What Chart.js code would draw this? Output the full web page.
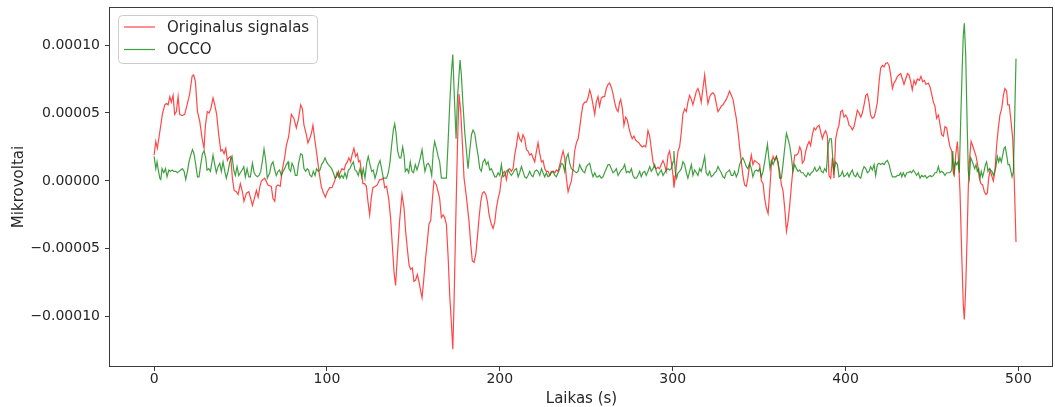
<!DOCTYPE html>
<html>
<head>
<meta charset="utf-8">
<script src="https://cdn.jsdelivr.net/npm/chart.js@4/dist/chart.umd.min.js"></script>
<style>
  body { margin: 0; background: #fff; }
  #wrap { width: 1055px; height: 407px; }
</style>
</head>
<body>
<div id="wrap"><canvas id="signal" width="1055" height="407"></canvas></div>
<script>
// values: [time (s), value]
const originalSignal = [
  [0, 1.9e-5], [1, 2.9e-5], [1.9, 2.4e-5], [3.3, 3.6e-5], [4.8, 4.9e-5], [6.2, 5.6e-5], [7.1, 5.7e-5], [8.1, 5.6e-5],
  [9.1, 6.2e-5], [10, 5.8e-5], [11, 6.3e-5], [11.9, 4.9e-5], [12.9, 5.1e-5], [13.9, 6.2e-5], [14.8, 4.9e-5], [16.2, 4.8e-5],
  [17.7, 4.9e-5], [19.3, 5.7e-5], [20.6, 6.4e-5], [22, 7.7e-5], [22.9, 7.8e-5], [23.9, 7.3e-5], [25.1, 5.1e-5], [26.4, 4.4e-5],
  [27.8, 3.1e-5], [28.9, 2.4e-5], [29.7, 4.1e-5], [30.8, 5.1e-5], [31.8, 5.0e-5], [32.8, 5.3e-5], [34.1, 6.1e-5], [35.1, 5.6e-5],
  [36.2, 4.9e-5], [37.4, 3.4e-5], [38.6, 2.2e-5], [39.5, 2.3e-5], [40.5, 2.0e-5], [41.5, 2.4e-5], [42.4, 1.5e-5], [43.2, 1.7e-5],
  [44.3, 1.8e-5], [45.3, 0.2e-5], [46.3, -0.7e-5], [47.6, -0.8e-5], [48.6, -1.0e-5], [49.9, -0.2e-5], [51.1, -0.8e-5], [52, -1.5e-5],
  [53.4, -0.9e-5], [54.8, -0.8e-5], [55.9, -1.3e-5], [56.9, -1.8e-5], [58.2, -1.2e-5], [59.2, -0.7e-5], [60.2, -1.2e-5], [61.1, -0.5e-5],
  [62.1, 0], [64, 0.2e-5], [65.9, -0.3e-5], [67.8, -0.4e-5], [68.8, -1.3e-5], [69.8, -1.5e-5], [70.7, -0.4e-5], [71.7, -0.3e-5],
  [73, -0.4e-5], [74, 0.7e-5], [75.5, 1.7e-5], [76.5, 2.6e-5], [77.9, 3.3e-5], [79.4, 4.9e-5], [80.9, 4.6e-5], [82.3, 3.9e-5],
  [83.6, 4.6e-5], [84.8, 5.6e-5], [85.8, 5.3e-5], [86.7, 4.1e-5], [88.1, 3.4e-5], [89, 2.8e-5], [90, 3.1e-5], [91, 3.5e-5],
  [91.9, 4.1e-5], [92.9, 3.1e-5], [94.2, 1.9e-5], [95.4, 0.7e-5], [96.7, -0.4e-5], [97.7, -0.8e-5], [99.1, -1.2e-5], [100.2, -0.8e-5],
  [101.6, -0.5e-5], [102.9, -0.5e-5], [104.5, 0], [105.8, 0.6e-5], [106.8, 0.3e-5], [107.9, 0.7e-5], [108.7, 0.9e-5], [109.9, 0.8e-5],
  [110.8, 1.2e-5], [111.8, 1.4e-5], [112.7, 1.7e-5], [113.7, 1.4e-5], [114.5, 1.9e-5], [115.6, 2.4e-5], [116.6, 1.8e-5], [117.6, 2.0e-5],
  [118.3, 1.4e-5], [119.1, 1.5e-5], [119.9, 0.7e-5], [120.8, -0.2e-5], [121.8, -0.2e-5], [122.8, -0.4e-5], [123.7, -1.5e-5], [124.7, -2.5e-5],
  [125.7, -1.2e-5], [126.6, -0.5e-5], [128, -0.4e-5], [129.1, -0.3e-5], [130.5, 0.1e-5], [131.4, 0.1e-5], [132.6, 0.2e-5], [133.4, -0.5e-5],
  [134.5, -0.4e-5], [135.7, -1.3e-5], [136.8, -2.7e-5], [137.8, -4.7e-5], [138.8, -6.7e-5], [139.7, -7.7e-5], [140.7, -5.6e-5], [142, -3.0e-5],
  [143.4, -1.0e-5], [144.6, -2.0e-5], [145.5, -3.7e-5], [146.5, -5.0e-5], [147.5, -6.2e-5], [148.4, -6.5e-5], [149.4, -6.4e-5], [150.3, -7.4e-5],
  [151.3, -7.3e-5], [152.3, -6.9e-5], [153.2, -7.4e-5], [154.2, -8.1e-5], [155, -8.6e-5], [155.9, -7.4e-5], [156.9, -5.9e-5], [158.1, -4.4e-5],
  [159, -3.2e-5], [160, -2.9e-5], [160.9, -1.5e-5], [161.9, 0], [163.3, -0.3e-5], [164.3, -0.8e-5], [165.2, -1.3e-5], [166.2, -2.7e-5],
  [167.2, -2.5e-5], [168.1, -2.7e-5], [169.1, -3.2e-5], [170.1, -5.6e-5], [171, -8.4e-5], [172, -10.5e-5], [172.8, -12.4e-5], [173.5, -9.1e-5],
  [174.5, -3.0e-5], [175.5, 2.6e-5], [176.4, 6.4e-5], [177.4, 5.1e-5], [178.4, 2.6e-5], [179.3, 0.2e-5], [180.3, -0.8e-5], [181.2, -1.8e-5],
  [182.2, -3.0e-5], [183.2, -4.7e-5], [184.1, -5.9e-5], [185.1, -6.0e-5], [186.1, -5.4e-5], [187, -4.2e-5], [188, -2.7e-5], [189, -1.5e-5],
  [189.9, -0.9e-5], [190.9, -0.8e-5], [191.9, -1.0e-5], [192.8, -1.5e-5], [193.8, -2.5e-5], [195.1, -3.2e-5], [196.1, -3.5e-5], [197.1, -3.0e-5],
  [198, -2.0e-5], [199, -1.3e-5], [200, -0.8e-5], [200.9, 0.2e-5], [201.9, 0.6e-5], [202.8, 0.7e-5], [203.8, 0.1e-5], [204.8, 0.8e-5],
  [205.7, 0.9e-5], [206.7, 0.7e-5], [207.7, 0.9e-5], [208.6, 1.9e-5], [209.6, 2.6e-5], [210.6, 3.5e-5], [211.5, 3.1e-5], [212.5, 2.9e-5],
  [213.4, 3.4e-5], [214.4, 3.1e-5], [215.4, 2.3e-5], [216.3, 2.2e-5], [217.3, 1.9e-5], [218.3, 2.0e-5], [219.2, 1.7e-5], [220.2, 1.4e-5],
  [221.2, 2.2e-5], [222.1, 2.8e-5], [223.1, 2.0e-5], [224.1, 1.4e-5], [225, 1.5e-5], [226, 0.9e-5], [226.9, 0.7e-5], [227.9, 0.7e-5],
  [228.9, 0.4e-5], [229.8, 0.7e-5], [230.8, 0.7e-5], [231.8, 0.6e-5], [232.7, 0.8e-5], [233.7, 0.7e-5], [234.7, 1.2e-5], [235.6, 1.7e-5],
  [236.6, 2.2e-5], [237.5, 1.7e-5], [238.5, 0.2e-5], [239.5, -0.8e-5], [240.4, -0.4e-5], [241.4, 0], [242.4, 0.9e-5], [243.3, 2.2e-5],
  [244.3, 2.8e-5], [245.3, 3.1e-5], [246.2, 3.9e-5], [247.2, 4.9e-5], [248.1, 5.6e-5], [249.1, 5.8e-5], [250.1, 5.8e-5], [251, 6.1e-5],
  [252, 6.7e-5], [252.9, 6.3e-5], [253.9, 5.6e-5], [254.9, 4.9e-5], [255.8, 5.8e-5], [256.8, 6.2e-5], [257.7, 5.5e-5], [258.7, 6.1e-5],
  [259.7, 6.2e-5], [260.6, 6.2e-5], [261.6, 6.8e-5], [262.6, 7.1e-5], [263.5, 7.2e-5], [264.5, 6.9e-5], [265.5, 6.4e-5], [266.4, 5.8e-5],
  [267.4, 5.3e-5], [268.4, 5.1e-5], [269.3, 5.8e-5], [269.9, 6.0e-5], [270.9, 5.3e-5], [271.8, 4.1e-5], [272.8, 4.7e-5], [273.7, 4.5e-5],
  [274.7, 3.9e-5], [275.7, 3.4e-5], [276.6, 3.1e-5], [277.6, 3.3e-5], [278.6, 3.0e-5], [279.5, 2.9e-5], [280.5, 2.8e-5], [281.5, 2.6e-5],
  [282.4, 2.5e-5], [283.4, 2.6e-5], [284.4, 2.5e-5], [284.9, 2.9e-5], [285.7, 3.7e-5], [286.7, 3.3e-5], [287.6, 2.4e-5], [288.6, 1.4e-5],
  [289.6, 1.0e-5], [290.5, 0.9e-5], [291.5, 1.0e-5], [292.4, 0.9e-5], [293.4, 1.2e-5], [294.4, 1.5e-5], [295.3, 1.2e-5], [296.3, 0.7e-5],
  [297.3, 1.9e-5], [298.2, 2.2e-5], [299.2, 1.4e-5], [300.2, 0.4e-5], [300.7, -0.5e-5], [301.5, 0.2e-5], [302.3, 1.4e-5], [303.1, 2.2e-5],
  [304, 2.5e-5], [305, 3.6e-5], [305.9, 4.9e-5], [306.9, 5.3e-5], [307.9, 5.1e-5], [308.8, 5.8e-5], [309.8, 6.3e-5], [310.8, 6.0e-5],
  [311.7, 5.6e-5], [312.7, 6.1e-5], [313.7, 6.6e-5], [314.6, 6.8e-5], [315.6, 6.4e-5], [316.5, 5.8e-5], [317.5, 6.8e-5], [318.5, 7.8e-5],
  [319.4, 6.7e-5], [320.4, 5.7e-5], [321.4, 6.2e-5], [322.3, 6.4e-5], [323.3, 6.5e-5], [324.3, 6.3e-5], [325.2, 5.7e-5], [326.2, 5.1e-5],
  [327.2, 5.3e-5], [328.1, 5.5e-5], [329.1, 5.6e-5], [330, 5.8e-5], [331, 6.0e-5], [332, 6.3e-5], [332.9, 6.6e-5], [333.9, 6.3e-5],
  [334.9, 6.0e-5], [335.8, 5.3e-5], [336.8, 4.6e-5], [337.8, 3.6e-5], [338.7, 2.5e-5], [339.7, 1.4e-5], [340.6, 0.4e-5], [341.6, -0.3e-5],
  [342.6, -0.4e-5], [343.5, 0.2e-5], [344.5, 1.2e-5], [345.5, 1.9e-5], [346.4, 1.2e-5], [347.4, 1.5e-5], [348.4, 1.4e-5], [350.3, 1.2e-5],
  [351.3, 0], [352.3, -0.2e-5], [353.2, -1.3e-5], [354.2, -2.0e-5], [355.2, -2.4e-5], [356.1, -0.8e-5], [357.1, 1.2e-5], [358.1, 1.8e-5],
  [359, 1.5e-5], [360, 1.8e-5], [361, 1.2e-5], [361.9, 0.7e-5], [362.9, -0.3e-5], [363.8, -0.7e-5], [364.8, -2.0e-5], [365.8, -3.7e-5],
  [366.7, -3.0e-5], [367.7, -1.8e-5], [368.7, -0.3e-5], [369.6, 0.9e-5], [370.6, 1.9e-5], [371.6, 1.9e-5], [372.5, 2.0e-5], [373.5, 2.5e-5],
  [374.4, 2.2e-5], [375, 1.3e-5], [376, 1.5e-5], [377, 2.2e-5], [377.9, 2.6e-5], [378.9, 2.9e-5], [379.8, 2.6e-5], [380.8, 3.4e-5],
  [381.8, 3.9e-5], [382.7, 3.75e-5], [383.7, 4.0e-5], [384.7, 4.1e-5], [385.6, 3.6e-5], [386.6, 3.1e-5], [387.6, 3.5e-5], [388.5, 3.7e-5],
  [389.5, 3.3e-5], [390.4, 0.4e-5], [391.4, 0.2e-5], [392.4, 1.7e-5], [393.3, 0.2e-5], [394.3, 3.1e-5], [395.3, 3.75e-5], [396.2, 4.1e-5],
  [397.2, 5.1e-5], [398.2, 5.2e-5], [399.1, 4.7e-5], [400.1, 4.85e-5], [401.1, 4.6e-5], [402, 4.1e-5], [403, 4.0e-5], [403.9, 3.75e-5],
  [404.9, 4.0e-5], [405.9, 4.6e-5], [406.8, 5.2e-5], [407.8, 5.0e-5], [408.8, 4.7e-5], [409.7, 5.0e-5], [410.7, 5.6e-5], [411.7, 6.3e-5],
  [412.6, 6.4e-5], [413.6, 5.8e-5], [414.5, 4.85e-5], [415.5, 4.6e-5], [416.5, 4.7e-5], [417.4, 5.1e-5], [418.4, 5.8e-5], [419.4, 7.3e-5],
  [420.3, 8.3e-5], [421.3, 8.5e-5], [422.3, 8.4e-5], [423.2, 8.65e-5], [424.2, 8.7e-5], [425.2, 8.5e-5], [426.1, 7.8e-5], [427.1, 6.8e-5],
  [428, 7.2e-5], [429, 7.4e-5], [430, 7.7e-5], [430.9, 7.8e-5], [431.9, 7.9e-5], [432.9, 7.5e-5], [433.8, 7.1e-5], [434.8, 7.5e-5],
  [435.8, 7.9e-5], [436.7, 7.8e-5], [437.7, 7.3e-5], [438.6, 6.7e-5], [439.6, 7.4e-5], [440.6, 7.1e-5], [441.5, 7.5e-5], [442.7, 7.4e-5],
  [443.6, 7.7e-5], [444.6, 7.3e-5], [445.6, 7.4e-5], [446.5, 7.1e-5], [447.9, 7.2e-5], [448.9, 6.9e-5], [449.8, 6.4e-5], [450.8, 5.8e-5],
  [451.7, 5.5e-5], [452.7, 4.6e-5], [453.7, 4.85e-5], [454.6, 4.2e-5], [455.6, 3.4e-5], [456.6, 3.3e-5], [457.5, 4.0e-5], [458.5, 3.9e-5],
  [459.5, 3.1e-5], [460.4, 2.5e-5], [461.4, 2.2e-5], [462.3, 0.6e-5], [462.9, 0.4e-5], [463.7, 1.9e-5], [464.7, 2.9e-5], [465.4, 1.4e-5],
  [466.2, -0.8e-5], [467.2, -5.4e-5], [468.1, -9.1e-5], [468.7, -10.2e-5], [469.5, -7.9e-5], [470.3, -4.2e-5], [471, -0.5e-5], [471.6, 1.4e-5],
  [472.6, 2.9e-5], [473.5, 2.6e-5], [474.5, 2.2e-5], [475.5, 1.8e-5], [476.4, 1.2e-5], [477.4, 0.2e-5], [478.3, -0.2e-5], [479.3, -0.3e-5],
  [480.3, -0.8e-5], [481.2, -1.0e-5], [482, -0.9e-5], [482.8, 0.2e-5], [483.6, 0.8e-5], [484.5, 0.4e-5], [485.5, 0], [486.4, 0.7e-5],
  [487.4, 2.6e-5], [488.4, 3.9e-5], [489.3, 4.85e-5], [490.3, 5.3e-5], [491.3, 6.3e-5], [492.2, 6.8e-5], [493.2, 6.6e-5], [493.8, 5.6e-5],
  [494.7, 5.6e-5], [495.7, 4.4e-5], [496.7, 3.1e-5], [497.6, 0], [498.6, -4.5e-5]
];

const occoSignal = [
  [0, 1.8e-5], [1, 0.9e-5], [1.7, 1.4e-5], [2.3, 0.9e-5], [3.3, 0.2e-5], [3.9, 0.1e-5], [4.6, 0.9e-5], [5.6, 0.6e-5],
  [6.6, 0.9e-5], [7.5, 0.3e-5], [8.5, 0.8e-5], [9.4, 0.7e-5], [10.4, 0.8e-5], [11.4, 0.7e-5], [12.5, 0.7e-5], [13.5, 0.6e-5],
  [14.5, 0.7e-5], [15.4, 0.8e-5], [16.4, 0.9e-5], [17.4, 0.7e-5], [18.3, 0.1e-5], [19.3, 0.7e-5], [20.2, 1.4e-5], [21.2, 1.9e-5],
  [22.2, 2.3e-5], [23.1, 2.0e-5], [24.1, 1.2e-5], [25.1, 0.3e-5], [26, 0.3e-5], [27, 1.2e-5], [28, 2.0e-5], [28.9, 2.2e-5],
  [29.9, 1.7e-5], [30.6, 0.8e-5], [31.6, 0.9e-5], [32.6, 0.7e-5], [33.5, 1.4e-5], [34.1, 1.9e-5], [35.1, 1.2e-5], [36, 0.6e-5],
  [37, 1.05e-5], [38, 1.3e-5], [38.9, 0.7e-5], [39.9, 1.4e-5], [40.9, 0.7e-5], [41.8, 0.2e-5], [42.8, 0.7e-5], [43.8, 1.4e-5],
  [45.1, 1.8e-5], [46.1, 0.8e-5], [47, 0.4e-5], [48, 1.05e-5], [49, 0.4e-5], [49.9, 0.6e-5], [50.9, 0.8e-5], [51.9, 1.05e-5],
  [52.8, 0.3e-5], [53.8, 0.9e-5], [54.8, 0.3e-5], [55.7, 0.3e-5], [56.9, 1.3e-5], [57.9, 0.6e-5], [58.8, 0.4e-5], [59.8, 0.3e-5],
  [60.7, 0.4e-5], [61.7, 0.7e-5], [62.7, 1.5e-5], [63.6, 2.35e-5], [64.6, 1.5e-5], [65.5, 0.2e-5], [66.9, 0.6e-5], [67.8, 1.2e-5],
  [68.8, 1.4e-5], [69.8, 0.8e-5], [70.7, 0.4e-5], [71.7, 0.7e-5], [72.6, 0.8e-5], [73.6, 0.4e-5], [74.6, 0.7e-5], [75.5, 0.9e-5],
  [76.5, 1.2e-5], [77.5, 1.4e-5], [78, 0.9e-5], [79, 0.7e-5], [79.8, 1.3e-5], [80.7, 1.05e-5], [81.7, 0.4e-5], [82.7, 0.4e-5],
  [83.6, 1.3e-5], [84.8, 2.0e-5], [85.8, 1.9e-5], [86.7, 0.9e-5], [87.7, 0.7e-5], [88.6, 0.9e-5], [89.4, 0.8e-5], [90.2, 0.4e-5],
  [91.2, 0.3e-5], [92.1, 0.7e-5], [93.1, 0.4e-5], [94, 0.9e-5], [95, 0.7e-5], [96, 0.8e-5], [96.9, 1.2e-5], [97.9, 1.4e-5],
  [98.9, 1.7e-5], [99.8, 1.4e-5], [100.8, 1.2e-5], [101.8, 1.05e-5], [102.7, 0.9e-5], [103.7, 0.6e-5], [104.7, 0.2e-5], [105.6, 0.3e-5],
  [106.6, 0.7e-5], [107.5, 0.2e-5], [108.5, 0.4e-5], [109.5, 0.2e-5], [110.4, 0.6e-5], [111.4, 0.2e-5], [112.4, 0.8e-5], [113.3, 0.9e-5],
  [114.3, 1.2e-5], [115.3, 1.4e-5], [116.2, 0.8e-5], [117.2, 0.7e-5], [118.1, 0.4e-5], [119.1, 0.9e-5], [120.1, 0.3e-5], [121, 0.9e-5],
  [122, 0.2e-5], [123, 1.3e-5], [123.9, 1.8e-5], [124.9, 1.2e-5], [125.9, 0.7e-5], [126.8, 0.8e-5], [127.8, 0.2e-5], [128.7, 0.6e-5],
  [129.7, 1.2e-5], [130.7, 1.5e-5], [131.6, 0.9e-5], [132.6, 0.2e-5], [133.6, 0.2e-5], [134.5, 0.2e-5], [135.5, 0.6e-5], [136.5, 1.4e-5],
  [137.4, 2.6e-5], [138.4, 3.75e-5], [139.2, 4.2e-5], [139.9, 3.6e-5], [140.9, 2.2e-5], [141.9, 1.7e-5], [142.8, 1.7e-5], [143.8, 2.5e-5],
  [144.6, 1.9e-5], [145.3, 0.7e-5], [146.3, 0.9e-5], [147.3, 0.6e-5], [148.2, 1.4e-5], [149.2, 0.7e-5], [150.1, 0.6e-5], [151.1, 1.2e-5],
  [152.1, 0.8e-5], [153, 1.2e-5], [154, 1.7e-5], [155, 2.3e-5], [155.9, 1.4e-5], [156.7, 0.7e-5], [157.7, 1.2e-5], [158.6, 1.3e-5],
  [159.6, 1.05e-5], [160.6, 0.4e-5], [161.5, 2.2e-5], [162.3, 2.9e-5], [163.3, 2.4e-5], [164.3, 1.8e-5], [165.2, 1.4e-5], [166.2, 0.2e-5],
  [167.2, 0.2e-5], [168.1, 0.2e-5], [169.1, 0.2e-5], [170.1, 2.9e-5], [171, 5.6e-5], [172, 8.0e-5], [172.8, 9.3e-5], [173.5, 6.8e-5],
  [174.7, 3.1e-5], [175.5, 6.1e-5], [176.2, 7.4e-5], [177, 8.9e-5], [177.8, 7.7e-5], [178.7, 5.6e-5], [179.7, 3.6e-5], [180.7, 2.2e-5],
  [181.6, 0.9e-5], [182.6, 2.2e-5], [183.6, 3.4e-5], [184.5, 3.75e-5], [185.5, 3.5e-5], [186.5, 2.6e-5], [187.4, 1.9e-5], [188.4, 0.9e-5],
  [189.3, 0.7e-5], [190.3, 1.4e-5], [191.3, 1.6e-5], [192.2, 1.2e-5], [193.2, 1.4e-5], [194.2, 0.8e-5], [195.1, 0.9e-5], [196.1, 0.6e-5],
  [197.1, 0.3e-5], [198, 0.3e-5], [199, 0.6e-5], [200, 0.4e-5], [200.9, 1.2e-5], [201.9, 0.3e-5], [202.8, 0.4e-5], [203.8, 0.7e-5],
  [204.8, 0.8e-5], [205.7, 0.6e-5], [206.7, 0.4e-5], [207.7, 0.6e-5], [208.6, 0.8e-5], [209.6, 0.9e-5], [210.6, 0.3e-5], [211.5, 0.6e-5],
  [212.5, 1.05e-5], [213.4, 0.7e-5], [214.4, 0.3e-5], [215.4, 0.2e-5], [216.3, 0.4e-5], [217.3, 0.7e-5], [218.3, 0.4e-5], [219.2, 0.3e-5],
  [220.2, 0.7e-5], [221.2, 0.8e-5], [222.1, 0.7e-5], [223.1, 0.4e-5], [224.1, 0.9e-5], [225, 0.6e-5], [226, 0.3e-5], [226.9, 0.6e-5],
  [227.9, 0.3e-5], [228.9, 0.4e-5], [229.8, 0.6e-5], [230.8, 0.7e-5], [231.8, 0.4e-5], [232.7, 0.3e-5], [233.7, 0.6e-5], [234.7, 0.9e-5],
  [235.6, 1.3e-5], [236.6, 1.2e-5], [237.5, 0.7e-5], [238.5, 1.7e-5], [239.5, 2.0e-5], [240.4, 1.3e-5], [241.4, 0.9e-5], [242.4, 0.8e-5],
  [243.3, 0.7e-5], [244.3, 0.6e-5], [245.3, 0.7e-5], [246.2, 1.2e-5], [247.2, 0.9e-5], [248.1, 0.7e-5], [249.1, 0.6e-5], [250.1, 1.05e-5],
  [251, 1.2e-5], [252, 1.3e-5], [253, 0.7e-5], [253.9, 0.3e-5], [254.9, 0.6e-5], [255.9, 0.3e-5], [256.8, 0.3e-5], [257.7, 0.4e-5],
  [258.7, 0.2e-5], [259.7, 0.3e-5], [260.6, 0.6e-5], [261.6, 0.9e-5], [262.6, 1.2e-5], [263.5, 1.2e-5], [264.5, 0.9e-5], [265.5, 0.6e-5],
  [266.4, 0.7e-5], [267.4, 0.9e-5], [268.4, 0.4e-5], [269.3, 0.6e-5], [270.3, 0.8e-5], [271.2, 0.9e-5], [272.2, 1.2e-5], [273.2, 0.6e-5],
  [274.1, 0.7e-5], [275.1, 0.6e-5], [276.1, 0.9e-5], [277, 0.4e-5], [278, 0.2e-5], [279, 0.2e-5], [279.9, 0.4e-5], [280.9, 0.7e-5],
  [281.8, 0.3e-5], [282.8, 0.6e-5], [283.8, 0.7e-5], [284.7, 0.4e-5], [285.7, 0.7e-5], [286.7, 1.05e-5], [287.6, 0.7e-5], [288.6, 0.9e-5],
  [289.6, 1.2e-5], [290.5, 0.7e-5], [291.5, 0.4e-5], [292.4, 0.6e-5], [293.4, 0.8e-5], [294.4, 0.4e-5], [295.3, 0.6e-5], [296.3, 0.8e-5],
  [297.3, 0.9e-5], [298.2, 0.8e-5], [299.2, 0.9e-5], [300.2, 1.4e-5], [300.7, 2.2e-5], [301.5, 0.7e-5], [302.3, 0.2e-5], [303.1, 0.6e-5],
  [304, 0.7e-5], [305, 0.9e-5], [305.9, 1.4e-5], [306.9, 1.2e-5], [307.9, 0.6e-5], [308.8, 0.2e-5], [309.8, 0.7e-5], [310.8, 1.2e-5],
  [311.7, 0.4e-5], [312.7, 0.8e-5], [313.7, 0.6e-5], [314.6, 0.4e-5], [315.6, 0.9e-5], [316.5, 0.7e-5], [317.5, 1.2e-5], [318.5, 1.8e-5],
  [319.4, 0.6e-5], [320.4, 0.4e-5], [321.4, 0.7e-5], [322.3, 0.3e-5], [323.3, 0.4e-5], [324.3, 0.6e-5], [325.2, 0.7e-5], [326.2, 1.05e-5],
  [327.2, 0.8e-5], [328.1, 0.6e-5], [329.1, 0.3e-5], [330, 0.2e-5], [331, 0.6e-5], [332, 0.7e-5], [332.9, 0.8e-5], [333.9, 0.4e-5],
  [334.9, 0.4e-5], [335.8, 0.7e-5], [336.8, 0.3e-5], [337.8, 0.6e-5], [338.7, 1.2e-5], [339.7, 1.5e-5], [340.6, 1.7e-5], [341.6, 1.4e-5],
  [342.6, 1.05e-5], [343.5, 0.9e-5], [344.5, 1.3e-5], [345.5, 0.9e-5], [346.4, 0.3e-5], [347.4, 0.7e-5], [348.4, 0.8e-5], [349.4, 0.7e-5],
  [350.3, 0.9e-5], [351.3, 0.3e-5], [352.3, 0.7e-5], [353.2, 1.4e-5], [354.2, 2.2e-5], [354.8, 2.7e-5], [355.6, 1.7e-5], [356.3, 0.9e-5],
  [357.1, 1.5e-5], [358.1, 1.2e-5], [359, 1.5e-5], [360, 1.8e-5], [361, 1.4e-5], [361.9, 0.2e-5], [362.9, 0.2e-5], [363.8, 1.2e-5],
  [364.8, 2.4e-5], [365.8, 3.5e-5], [366.7, 3.1e-5], [367.7, 2.6e-5], [368.7, 1.7e-5], [369.6, 0.7e-5], [370.6, 1.2e-5], [371.6, 0.9e-5],
  [372.5, 0.7e-5], [373.5, 0.8e-5], [374.4, 0.6e-5], [375.4, 0.6e-5], [376.4, 0.4e-5], [377.3, 0.3e-5], [378.3, 0.6e-5], [379.3, 0.4e-5],
  [380.2, 0.6e-5], [381.2, 0.7e-5], [382.2, 1.0e-5], [383.1, 0.7e-5], [384.1, 0.8e-5], [385.1, 1.05e-5], [386, 0.7e-5], [387, 0.6e-5],
  [387.9, 0.9e-5], [388.9, 0.7e-5], [389.9, 2.6e-5], [390.8, 3.1e-5], [391.8, 3.1e-5], [392.6, 1.7e-5], [393.3, 0.7e-5], [394.3, 1.4e-5],
  [395.3, 1.2e-5], [396.2, 0.3e-5], [397.2, 0.4e-5], [398.2, 0.7e-5], [399.1, 0.3e-5], [400.1, 0.4e-5], [401.1, 0.6e-5], [402, 0.3e-5],
  [403, 0.6e-5], [403.9, 0.8e-5], [404.9, 0.4e-5], [405.9, 0.3e-5], [406.8, 0.6e-5], [407.8, 0.3e-5], [408.8, 0.2e-5], [409.7, 0.7e-5],
  [410.7, 1.05e-5], [411.7, 0.9e-5], [412.6, 0.6e-5], [413.6, 0.7e-5], [414.5, 1.05e-5], [415.5, 0.8e-5], [416.5, 1.2e-5], [417.4, 0.4e-5],
  [418.4, 1.2e-5], [419.4, 1.3e-5], [420.3, 1.2e-5], [421.3, 1.3e-5], [422.3, 1.2e-5], [423.2, 1.4e-5], [424.2, 1.5e-5], [425.2, 1.2e-5],
  [426.1, 0.7e-5], [427.1, 0.3e-5], [428, 0.3e-5], [429, 0.3e-5], [430, 0.4e-5], [430.9, 0.4e-5], [431.9, 0.6e-5], [432.5, 0.3e-5],
  [433.4, 0.6e-5], [434.4, 0.3e-5], [435.4, 0.6e-5], [436.3, 0.6e-5], [437.3, 0.7e-5], [438.2, 0.6e-5], [439.2, 0.8e-5], [440.2, 0.6e-5],
  [441.1, 0.4e-5], [442.1, 0.6e-5], [443.1, 0.2e-5], [444, 0.4e-5], [445, 0.3e-5], [446, 0.4e-5], [446.9, 0.2e-5], [447.9, 0.3e-5],
  [448.9, 0.4e-5], [449.8, 0.3e-5], [450.8, 0.4e-5], [451.7, 0.6e-5], [452.7, 0.6e-5], [453.7, 1.05e-5], [454.6, 0.6e-5], [455.6, 0.7e-5],
  [456.6, 0.6e-5], [457.5, 0.4e-5], [458.5, 0.6e-5], [459.5, 0.6e-5], [460.4, 0.6e-5], [461.4, 0.8e-5], [462, 2.2e-5], [462.7, 0.7e-5],
  [463.5, 1.4e-5], [464.3, 1.2e-5], [465, 1.4e-5], [465.8, 0.6e-5], [466.6, 4.4e-5], [467.4, 8.0e-5], [468.1, 10.7e-5], [468.7, 11.6e-5],
  [469.5, 9.3e-5], [470.3, 4.4e-5], [471, 0.7e-5], [471.6, 0.2e-5], [472.4, 1.7e-5], [473.1, 1.5e-5], [473.9, 1.2e-5], [474.7, 0.9e-5],
  [475.5, 1.2e-5], [476.2, 0.7e-5], [477, 0.9e-5], [477.8, 0.2e-5], [478.5, 0.7e-5], [479.3, 0.3e-5], [480.1, 0.7e-5], [480.9, 1.2e-5],
  [481.6, 1.4e-5], [482.4, 0.7e-5], [483.2, 0.9e-5], [483.9, 0.8e-5], [484.7, 0.7e-5], [485.5, 0.4e-5], [486.3, 0.7e-5], [487, 1.05e-5],
  [487.8, 1.8e-5], [488.6, 1.4e-5], [489.3, 1.7e-5], [490.1, 1.4e-5], [490.9, 1.9e-5], [491.7, 2.4e-5], [492.4, 2.5e-5], [493.2, 1.9e-5],
  [494, 1.2e-5], [494.8, 1.2e-5], [495.5, 0.8e-5], [496.3, 0.3e-5], [497.1, 0.7e-5], [497.8, 4.4e-5], [498.6, 9.0e-5]
];

const seriesLabels = ['Originalus signalas', 'OCCO'];
const xTicks = [0, 100, 200, 300, 400, 500];
const yTicks = [-1e-4, -5e-5, 0, 5e-5, 1e-4];
const yTickLabels = ['\u22120.00010', '\u22120.00005', '0.00000', '0.00005', '0.00010'];

const RED = 'rgba(255, 0, 0, 0.72)';
const GREEN = 'rgba(0, 128, 0, 0.75)';
const FONT = "'DejaVu Sans', sans-serif";
const TEXT = '#262626';

Chart.defaults.font.family = FONT;
Chart.defaults.font.size = 14;
Chart.defaults.color = TEXT;

// matplotlib style box around the axes
const frame = {
  id: 'frame',
  afterDatasetsDraw(chart) {
    const { ctx, chartArea: a } = chart;
    ctx.save();
    ctx.strokeStyle = '#3a3a3a';
    ctx.lineWidth = 1;
    ctx.strokeRect(Math.round(a.left) - 0.5, Math.round(a.top) + 0.5,
      Math.round(a.right - a.left), Math.round(a.bottom - a.top) - 1);
    ctx.restore();
  }
};

// legend box in the upper left corner
const boxLegend = {
  id: 'boxLegend',
  afterDraw(chart) {
    const { ctx } = chart;
    const x = 118.5, y = 15.5, w = 199, h = 48;
    ctx.save();
    ctx.beginPath();
    ctx.roundRect(x, y, w, h, 4);
    ctx.fillStyle = 'rgba(255, 255, 255, 0.8)';
    ctx.fill();
    ctx.strokeStyle = '#cccccc';
    ctx.lineWidth = 1;
    ctx.stroke();
    ctx.font = '15px ' + FONT;
    ctx.textBaseline = 'middle';
    chart.data.datasets.forEach((ds, i) => {
      const ly = 27 + i * 22.5;
      ctx.beginPath();
      ctx.moveTo(124, ly);
      ctx.lineTo(155, ly);
      ctx.strokeStyle = ds.borderColor;
      ctx.lineWidth = 1.2;
      ctx.stroke();
      ctx.fillStyle = TEXT;
      ctx.fillText(ds.label, 167, ly + 1);
    });
    ctx.restore();
  }
};

new Chart(document.getElementById('signal'), {
  type: 'line',
  data: {
    datasets: [{
      label: seriesLabels[0],
      data: originalSignal.map(p => ({ x: p[0], y: p[1] })),
      borderColor: RED,
      borderWidth: 1.2,
      pointRadius: 0,
      order: 1
    }, {
      label: seriesLabels[1],
      data: occoSignal.map(p => ({ x: p[0], y: p[1] })),
      borderColor: GREEN,
      borderWidth: 1.2,
      pointRadius: 0,
      order: 0
    }]
  },
  options: {
    responsive: false,
    animation: false,
    layout: { padding: { top: 7, right: 2, left: 0, bottom: 0 } },
    plugins: { legend: { display: false }, tooltip: { enabled: false } },
    scales: {
      x: {
        type: 'linear',
        min: -25.5,
        max: 520,
        afterBuildTicks: s => { s.ticks = xTicks.map(v => ({ value: v })); },
        afterFit: s => { s.height = 40; s.paddingLeft = 0; s.paddingRight = 0; },
        ticks: { padding: 0, maxRotation: 0, color: TEXT },
        grid: { drawOnChartArea: false, tickLength: 4, color: '#3a3a3a' },
        border: { display: false },
        title: { display: true, text: 'Laikas (s)', font: { size: 15 }, padding: { top: 0, bottom: -1 }, color: TEXT }
      },
      y: {
        min: -1.37e-4,
        max: 1.28e-4,
        afterBuildTicks: s => { s.ticks = yTicks.map(v => ({ value: v })); },
        afterFit: s => { s.width = 110; s.paddingTop = 0; s.paddingBottom = 0; },
        ticks: { padding: 5, color: TEXT, callback: v => yTickLabels[yTicks.indexOf(v)] },
        grid: { drawOnChartArea: false, tickLength: 5, color: '#3a3a3a' },
        border: { display: false },
        title: { display: true, text: 'Mikrovoltai', font: { size: 15 }, padding: { top: 10, bottom: 0 }, color: TEXT }
      }
    }
  },
  plugins: [frame, boxLegend]
});
</script>
</body>
</html>
